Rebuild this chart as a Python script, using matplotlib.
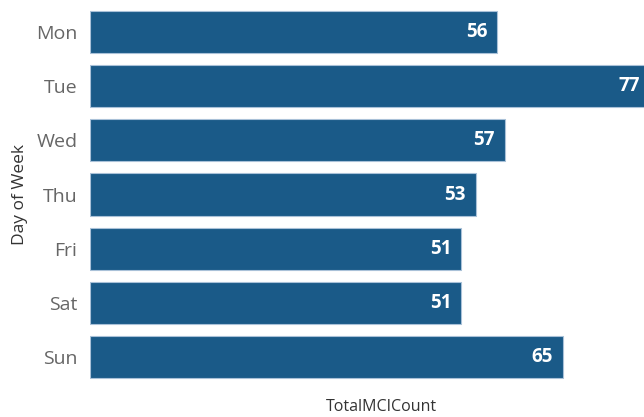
import matplotlib
matplotlib.use("Agg")
import matplotlib.pyplot as plt

days = ["Mon", "Tue", "Wed", "Thu", "Fri", "Sat", "Sun"]
counts = [56, 77, 57, 53, 51, 51, 65]

bar_color = "#1a5a88"
edge_color = "#a9c1d8"

plt.rcParams["font.family"] = ["Open Sans", "DejaVu Sans"]

fig = plt.figure(figsize=(6.44, 4.17), dpi=100)
# plot area runs past the right edge of the picture (the source was cropped)
ax = fig.add_axes([90 / 644, 33 / 417, 582 / 644, 379 / 417])

ypos = list(range(len(days)))
ax.barh(ypos, counts, height=0.78, color=bar_color, edgecolor=edge_color, linewidth=0.8)

ax.set_xlim(0, 80)
ax.set_ylim(len(days) - 0.5, -0.5)
ax.set_yticks(ypos)
ax.set_yticklabels(days, fontsize=14, color="#666666")
ax.tick_params(axis="y", length=0, pad=9)
ax.set_xticks([])
for s in ax.spines.values():
    s.set_visible(False)

# labels inside the bar end
for y, v in zip(ypos, counts):
    ax.annotate(str(v), xy=(v, y), xytext=(-7, 0), textcoords="offset points",
                ha="right", va="center", color="white", fontsize=13.5, fontweight="bold")

ax.set_ylabel("Day of Week", fontsize=12.5, color="#333333", labelpad=6)
fig.text(381 / 644, 1 - 407 / 417, "TotalMCICount", ha="center", va="center",
         fontsize=11.5, color="#333333")

fig.savefig("out.png", dpi=100)
